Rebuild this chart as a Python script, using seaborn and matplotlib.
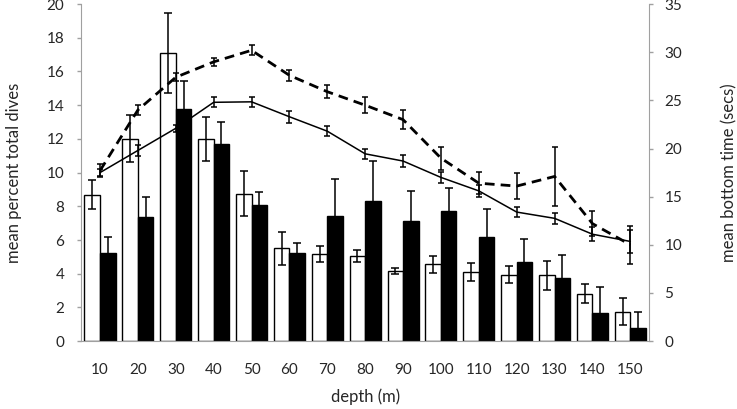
import numpy as np
import pandas as pd
import matplotlib
matplotlib.use("Agg")
import matplotlib.pyplot as plt
import seaborn as sns

depths = [10, 20, 30, 40, 50, 60, 70, 80, 90, 100, 110, 120, 130, 140, 150]

# mean percent total dives (left axis), two groups
pct_white = [8.7, 12.0, 17.1, 12.0, 8.75, 5.5, 5.15, 5.05, 4.15, 4.55, 4.1, 3.95, 3.9, 2.8, 1.75]
pct_white_err = [0.85, 1.4, 2.35, 1.3, 1.35, 1.0, 0.47, 0.37, 0.19, 0.53, 0.55, 0.52, 0.87, 0.56, 0.8]
pct_black = [5.25, 7.35, 13.8, 11.7, 8.05, 5.25, 7.4, 8.3, 7.15, 7.75, 6.15, 4.7, 3.75, 1.65, 0.75]
pct_black_err = [0.95, 1.2, 1.65, 1.3, 0.78, 0.6, 2.2, 2.4, 1.75, 1.32, 1.67, 1.37, 1.35, 1.55, 1.0]

# mean bottom time in secs (right axis)
bt_solid = [17.5, 19.8, 22.1, 24.8, 24.85, 23.3, 21.8, 19.45, 18.7, 17.0, 15.6, 13.4, 12.75, 11.1, 10.35]
bt_solid_err = [0.35, 0.55, 0.35, 0.5, 0.55, 0.6, 0.55, 0.55, 0.6, 0.55, 0.6, 0.5, 0.6, 0.7, 1.2]
bt_dashed = [17.7, 24.0, 27.4, 29.0, 30.2, 27.6, 25.9, 24.5, 23.0, 19.0, 16.4, 16.1, 17.1, 12.2, 10.0]
bt_dashed_err = [0.65, 0.55, 0.4, 0.4, 0.5, 0.6, 0.65, 0.8, 1.0, 1.2, 1.15, 1.35, 3.05, 1.3, 2.0]

sns.set_style("white")
plt.rcParams['font.family'] = ['Lato', 'DejaVu Sans']

axis_grey = '#a0a0a0'

bars = pd.DataFrame({
    'depth': [str(d) for d in depths] * 2,
    'pct': pct_white + pct_black,
    'group': ['white'] * len(depths) + ['black'] * len(depths),
})

fig, ax = plt.subplots(figsize=(7.37, 4.09), dpi=100)
fig.subplots_adjust(left=0.110, right=0.881, bottom=0.166, top=0.990)

sns.barplot(data=bars, x='depth', y='pct', hue='group',
            palette={'white': 'white', 'black': 'black'},
            width=0.82, edgecolor='black', linewidth=1,
            errorbar=None, legend=False, ax=ax)

for cont, err in zip(ax.containers, [pct_white_err, pct_black_err]):
    xs = [p.get_x() + p.get_width() / 2 for p in cont]
    hs = [p.get_height() for p in cont]
    ax.errorbar(xs, hs, yerr=err, fmt='none', ecolor='black',
                elinewidth=1.1, capsize=3, capthick=1.1)

pos = np.arange(len(depths))
ax2 = ax.twinx()
sns.lineplot(x=pos, y=bt_solid, ax=ax2, color='black', linewidth=1.1)
ax2.errorbar(pos, bt_solid, yerr=bt_solid_err, fmt='none', ecolor='black',
             elinewidth=1.1, capsize=2.5, capthick=1.1)
sns.lineplot(x=pos, y=bt_dashed, ax=ax2, color='black', linewidth=2,
             linestyle=(0, (3.5, 2.2)))
ax2.errorbar(pos, bt_dashed, yerr=bt_dashed_err, fmt='none', ecolor='black',
             elinewidth=1.1, capsize=2.5, capthick=1.1)

ax.set_xlim(-0.5, len(depths) - 0.5)
ax.set_ylim(0, 20)
ax.set_yticks(np.arange(0, 21, 2))
ax2.set_ylim(0, 35)
ax2.set_yticks(np.arange(0, 36, 5))

ax.set_xticks(pos)
ax.set_xticklabels([str(d) for d in depths])
ax.set_xticks(np.arange(-0.5, len(depths), 1), minor=True)
ax.tick_params(axis='x', which='major', length=0, pad=16, labelsize=11)
ax.tick_params(axis='x', which='minor', length=4, width=1, color=axis_grey, direction='out')
ax.tick_params(axis='y', length=3, width=1, color=axis_grey, pad=9, labelsize=11, left=True)
ax2.tick_params(axis='y', length=3, width=1, color=axis_grey, pad=8, labelsize=11, right=True)

ax.set_xlabel('depth (m)', fontsize=12, labelpad=8)
ax.set_ylabel('mean percent total dives', fontsize=12, labelpad=18)
ax2.set_ylabel('mean bottom time (secs)', fontsize=12, labelpad=28)

for a in (ax, ax2):
    a.spines['top'].set_visible(False)
    for s in a.spines.values():
        s.set_color(axis_grey)
ax.spines['right'].set_visible(False)
ax2.spines['left'].set_visible(False)
ax2.spines['bottom'].set_visible(False)

fig.savefig('out.png', dpi=100)
